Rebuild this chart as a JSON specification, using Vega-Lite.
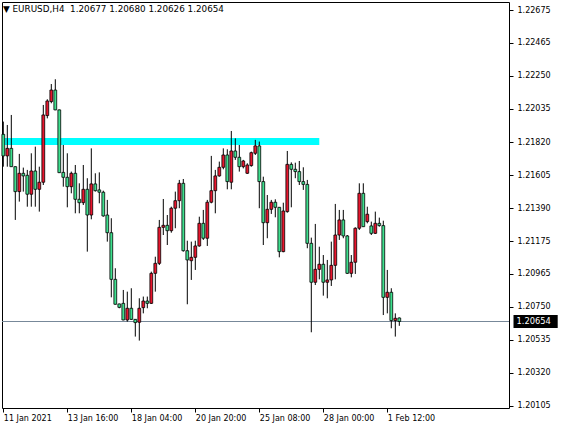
{
  "$schema": "https://vega.github.io/schema/vega-lite/v6.json",
  "autosize": "none",
  "width": 507,
  "height": 406,
  "padding": {"left": 2, "top": 2, "right": 52, "bottom": 22},
  "background": "white",
  "config": {
    "view": {"stroke": "black", "strokeWidth": 1},
    "font": "DejaVu Sans",
    "axis": {"labelFont": "DejaVu Sans", "labelFontSize": 8, "labelColor": "black", "tickColor": "black", "tickSize": 4, "domain": false, "grid": false, "title": null, "labelOverlap": false, "labelBound": false, "labelFlush": false}
  },
  "title": {"text": "▼ EURUSD,H4\u00a0\u00a01.20677 1.20680 1.20626 1.20654", "anchor": "start", "frame": "group", "offset": -12, "dx": 1, "font": "DejaVu Sans", "fontSize": 8.8, "fontWeight": "normal", "color": "black"},
  "datasets": {
    "zones": [{"t1": -2, "t2": 79, "p1": 1.21847, "p2": 1.21801}],
    "candles": [
      {"i": 0, "o": 1.21870, "h": 1.21953, "l": 1.21660, "c": 1.21730},
      {"i": 1, "o": 1.21730, "h": 1.21931, "l": 1.21660, "c": 1.21779},
      {"i": 2, "o": 1.21779, "h": 1.21996, "l": 1.21658, "c": 1.21660},
      {"i": 3, "o": 1.21660, "h": 1.21662, "l": 1.21314, "c": 1.21498},
      {"i": 4, "o": 1.21498, "h": 1.21743, "l": 1.21433, "c": 1.21617},
      {"i": 5, "o": 1.21617, "h": 1.21654, "l": 1.21498, "c": 1.21600},
      {"i": 6, "o": 1.21604, "h": 1.21639, "l": 1.21400, "c": 1.21481},
      {"i": 7, "o": 1.21481, "h": 1.21747, "l": 1.21400, "c": 1.21632},
      {"i": 8, "o": 1.21632, "h": 1.21790, "l": 1.21400, "c": 1.21513},
      {"i": 9, "o": 1.21513, "h": 1.21660, "l": 1.21368, "c": 1.21559},
      {"i": 10, "o": 1.21559, "h": 1.22061, "l": 1.21541, "c": 1.21996},
      {"i": 11, "o": 1.21992, "h": 1.22098, "l": 1.21974, "c": 1.22087},
      {"i": 12, "o": 1.22083, "h": 1.22197, "l": 1.22072, "c": 1.22158},
      {"i": 13, "o": 1.22158, "h": 1.22228, "l": 1.22027, "c": 1.22029},
      {"i": 14, "o": 1.22029, "h": 1.22031, "l": 1.21619, "c": 1.21621},
      {"i": 15, "o": 1.21623, "h": 1.21801, "l": 1.21530, "c": 1.21591},
      {"i": 16, "o": 1.21591, "h": 1.21747, "l": 1.21396, "c": 1.21530},
      {"i": 17, "o": 1.21530, "h": 1.21628, "l": 1.21487, "c": 1.21617},
      {"i": 18, "o": 1.21617, "h": 1.21671, "l": 1.21357, "c": 1.21448},
      {"i": 19, "o": 1.21448, "h": 1.21552, "l": 1.21357, "c": 1.21426},
      {"i": 20, "o": 1.21426, "h": 1.21671, "l": 1.21411, "c": 1.21513},
      {"i": 21, "o": 1.21513, "h": 1.21585, "l": 1.21108, "c": 1.21346},
      {"i": 22, "o": 1.21346, "h": 1.21779, "l": 1.21318, "c": 1.21548},
      {"i": 23, "o": 1.21548, "h": 1.21617, "l": 1.21498, "c": 1.21504},
      {"i": 24, "o": 1.21509, "h": 1.21623, "l": 1.21422, "c": 1.21494},
      {"i": 25, "o": 1.21494, "h": 1.21504, "l": 1.21335, "c": 1.21340},
      {"i": 26, "o": 1.21346, "h": 1.21444, "l": 1.21173, "c": 1.21231},
      {"i": 27, "o": 1.21231, "h": 1.21325, "l": 1.20811, "c": 1.20928},
      {"i": 28, "o": 1.20928, "h": 1.21000, "l": 1.20764, "c": 1.20766},
      {"i": 29, "o": 1.20768, "h": 1.20770, "l": 1.20740, "c": 1.20746},
      {"i": 30, "o": 1.20772, "h": 1.20859, "l": 1.20662, "c": 1.20664},
      {"i": 31, "o": 1.20664, "h": 1.20848, "l": 1.20653, "c": 1.20740},
      {"i": 32, "o": 1.20740, "h": 1.20870, "l": 1.20664, "c": 1.20668},
      {"i": 33, "o": 1.20668, "h": 1.20670, "l": 1.20556, "c": 1.20647},
      {"i": 34, "o": 1.20649, "h": 1.20805, "l": 1.20530, "c": 1.20740},
      {"i": 35, "o": 1.20744, "h": 1.20816, "l": 1.20707, "c": 1.20787},
      {"i": 36, "o": 1.20787, "h": 1.20816, "l": 1.20740, "c": 1.20772},
      {"i": 37, "o": 1.20772, "h": 1.20978, "l": 1.20768, "c": 1.20967},
      {"i": 38, "o": 1.20967, "h": 1.21075, "l": 1.20848, "c": 1.21032},
      {"i": 39, "o": 1.21032, "h": 1.21314, "l": 1.21021, "c": 1.21266},
      {"i": 40, "o": 1.21266, "h": 1.21450, "l": 1.21216, "c": 1.21279},
      {"i": 41, "o": 1.21279, "h": 1.21346, "l": 1.21151, "c": 1.21244},
      {"i": 42, "o": 1.21244, "h": 1.21400, "l": 1.21231, "c": 1.21390},
      {"i": 43, "o": 1.21390, "h": 1.21498, "l": 1.21260, "c": 1.21439},
      {"i": 44, "o": 1.21439, "h": 1.21574, "l": 1.21390, "c": 1.21552},
      {"i": 45, "o": 1.21552, "h": 1.21580, "l": 1.21108, "c": 1.21114},
      {"i": 46, "o": 1.21114, "h": 1.21179, "l": 1.20766, "c": 1.21054},
      {"i": 47, "o": 1.21049, "h": 1.21173, "l": 1.20924, "c": 1.21071},
      {"i": 48, "o": 1.21071, "h": 1.21179, "l": 1.20989, "c": 1.21145},
      {"i": 49, "o": 1.21145, "h": 1.21335, "l": 1.21140, "c": 1.21292},
      {"i": 50, "o": 1.21292, "h": 1.21379, "l": 1.21184, "c": 1.21195},
      {"i": 51, "o": 1.21195, "h": 1.21444, "l": 1.21145, "c": 1.21429},
      {"i": 52, "o": 1.21429, "h": 1.21730, "l": 1.21422, "c": 1.21504},
      {"i": 53, "o": 1.21504, "h": 1.21639, "l": 1.21357, "c": 1.21600},
      {"i": 54, "o": 1.21600, "h": 1.21693, "l": 1.21595, "c": 1.21656},
      {"i": 55, "o": 1.21656, "h": 1.21779, "l": 1.21643, "c": 1.21736},
      {"i": 56, "o": 1.21736, "h": 1.21773, "l": 1.21513, "c": 1.21563},
      {"i": 57, "o": 1.21559, "h": 1.21892, "l": 1.21513, "c": 1.21762},
      {"i": 58, "o": 1.21762, "h": 1.21844, "l": 1.21704, "c": 1.21721},
      {"i": 59, "o": 1.21721, "h": 1.21801, "l": 1.21628, "c": 1.21660},
      {"i": 60, "o": 1.21660, "h": 1.21704, "l": 1.21649, "c": 1.21697},
      {"i": 61, "o": 1.21617, "h": 1.21682, "l": 1.21613, "c": 1.21671},
      {"i": 62, "o": 1.21667, "h": 1.21758, "l": 1.21660, "c": 1.21751},
      {"i": 63, "o": 1.21747, "h": 1.21834, "l": 1.21736, "c": 1.21795},
      {"i": 64, "o": 1.21795, "h": 1.21823, "l": 1.21390, "c": 1.21563},
      {"i": 65, "o": 1.21563, "h": 1.21595, "l": 1.21151, "c": 1.21296},
      {"i": 66, "o": 1.21296, "h": 1.21476, "l": 1.21195, "c": 1.21383},
      {"i": 67, "o": 1.21383, "h": 1.21444, "l": 1.21353, "c": 1.21429},
      {"i": 68, "o": 1.21429, "h": 1.21448, "l": 1.21331, "c": 1.21396},
      {"i": 69, "o": 1.21396, "h": 1.21398, "l": 1.21071, "c": 1.21108},
      {"i": 70, "o": 1.21108, "h": 1.21426, "l": 1.21104, "c": 1.21372},
      {"i": 71, "o": 1.21368, "h": 1.21762, "l": 1.21361, "c": 1.21675},
      {"i": 72, "o": 1.21675, "h": 1.21688, "l": 1.21396, "c": 1.21643},
      {"i": 73, "o": 1.21643, "h": 1.21686, "l": 1.21585, "c": 1.21628},
      {"i": 74, "o": 1.21628, "h": 1.21697, "l": 1.21541, "c": 1.21563},
      {"i": 75, "o": 1.21563, "h": 1.21656, "l": 1.21509, "c": 1.21545},
      {"i": 76, "o": 1.21545, "h": 1.21574, "l": 1.21130, "c": 1.21162},
      {"i": 77, "o": 1.21162, "h": 1.21199, "l": 1.20584, "c": 1.20909},
      {"i": 78, "o": 1.20909, "h": 1.21288, "l": 1.20891, "c": 1.20993},
      {"i": 79, "o": 1.20993, "h": 1.21140, "l": 1.20928, "c": 1.21026},
      {"i": 80, "o": 1.21026, "h": 1.21086, "l": 1.20822, "c": 1.20909},
      {"i": 81, "o": 1.20909, "h": 1.21054, "l": 1.20805, "c": 1.20924},
      {"i": 82, "o": 1.20924, "h": 1.21173, "l": 1.20885, "c": 1.21019},
      {"i": 83, "o": 1.21019, "h": 1.21418, "l": 1.20928, "c": 1.21216},
      {"i": 84, "o": 1.21216, "h": 1.21379, "l": 1.21184, "c": 1.21314},
      {"i": 85, "o": 1.21314, "h": 1.21379, "l": 1.21195, "c": 1.21210},
      {"i": 86, "o": 1.21210, "h": 1.21216, "l": 1.20963, "c": 1.20967},
      {"i": 87, "o": 1.20967, "h": 1.21086, "l": 1.20941, "c": 1.21039},
      {"i": 88, "o": 1.21039, "h": 1.21266, "l": 1.20963, "c": 1.21260},
      {"i": 89, "o": 1.21260, "h": 1.21552, "l": 1.21249, "c": 1.21487},
      {"i": 90, "o": 1.21487, "h": 1.21552, "l": 1.21268, "c": 1.21270},
      {"i": 91, "o": 1.21303, "h": 1.21400, "l": 1.21292, "c": 1.21351},
      {"i": 92, "o": 1.21275, "h": 1.21303, "l": 1.21216, "c": 1.21227},
      {"i": 93, "o": 1.21227, "h": 1.21368, "l": 1.21223, "c": 1.21292},
      {"i": 94, "o": 1.21292, "h": 1.21329, "l": 1.21270, "c": 1.21277},
      {"i": 95, "o": 1.21277, "h": 1.21309, "l": 1.20696, "c": 1.20811},
      {"i": 96, "o": 1.20811, "h": 1.20989, "l": 1.20707, "c": 1.20844},
      {"i": 97, "o": 1.20844, "h": 1.20870, "l": 1.20610, "c": 1.20660},
      {"i": 98, "o": 1.20660, "h": 1.20707, "l": 1.20556, "c": 1.20675},
      {"i": 99, "o": 1.20677, "h": 1.20680, "l": 1.20626, "c": 1.20654}
    ]
  },
  "data": {"name": "candles"},
  "layer": [
    {
      "data": {"name": "zones"},
      "mark": {"type": "rect", "color": "#00FFFF", "clip": true},
      "encoding": {
        "x": {"field": "t1", "type": "quantitative", "scale": {"domain": [-0.325, 126.425], "nice": false, "zero": false, "padding": 0},
          "axis": {"orient": "bottom", "values": [0, 16, 32, 48, 64, 80, 96], "tickCount": 20, "labelAlign": "left", "labelPadding": 2, "labelOverlap": false,
            "labelExpr": "['11 Jan 2021', '13 Jan 16:00', '18 Jan 04:00', '20 Jan 20:00', '25 Jan 08:00', '28 Jan 00:00', '1 Feb 12:00'][datum.value / 16]"}},
        "x2": {"field": "t2"},
        "y": {"field": "p1", "type": "quantitative", "scale": {"domain": [1.20092, 1.2273], "nice": false, "zero": false, "padding": 0},
          "axis": {"orient": "right", "format": ".5f", "tickCount": 20, "labelPadding": 4, "labelBaseline": "middle", "labelOverlap": false, "labelFlush": false,
            "values": [1.20105, 1.2032, 1.20535, 1.2075, 1.20965, 1.21175, 1.2139, 1.21605, 1.2182, 1.22035, 1.2225, 1.22465, 1.22675]}},
        "y2": {"field": "p2"}
      }
    },
    {
      "transform": [{"filter": "datum.i == 99"}],
      "mark": {"type": "rule", "color": "#778899", "strokeWidth": 1},
      "encoding": {"y": {"field": "c", "type": "quantitative"}}
    },
    {
      "mark": {"type": "rule", "color": "black", "strokeWidth": 1},
      "encoding": {
        "x": {"field": "i", "type": "quantitative"},
        "y": {"field": "l", "type": "quantitative"},
        "y2": {"field": "h"}
      }
    },
    {
      "mark": {"type": "bar", "orient": "vertical", "size": 2.8, "stroke": "black", "strokeWidth": 0.8},
      "encoding": {
        "x": {"field": "i", "type": "quantitative"},
        "y": {"field": "o", "type": "quantitative"},
        "y2": {"field": "c"},
        "fill": {"condition": {"test": "datum.c > datum.o", "value": "#E8162E"}, "value": "#3FE08F"}
      }
    },
    {
      "transform": [{"filter": "datum.i == 99"}],
      "mark": {"type": "bar", "orient": "horizontal", "size": 13, "color": "black"},
      "encoding": {
        "x": {"datum": 127.55, "type": "quantitative"},
        "x2": {"datum": 138.6},
        "y": {"field": "c", "type": "quantitative"}
      }
    },
    {
      "transform": [{"filter": "datum.i == 99"}],
      "mark": {"type": "text", "align": "left", "baseline": "middle", "color": "white", "font": "DejaVu Sans", "fontSize": 8.3},
      "encoding": {
        "x": {"datum": 128.3, "type": "quantitative"},
        "y": {"field": "c", "type": "quantitative"},
        "text": {"field": "c", "type": "quantitative", "format": ".5f"}
      }
    }
  ]
}
